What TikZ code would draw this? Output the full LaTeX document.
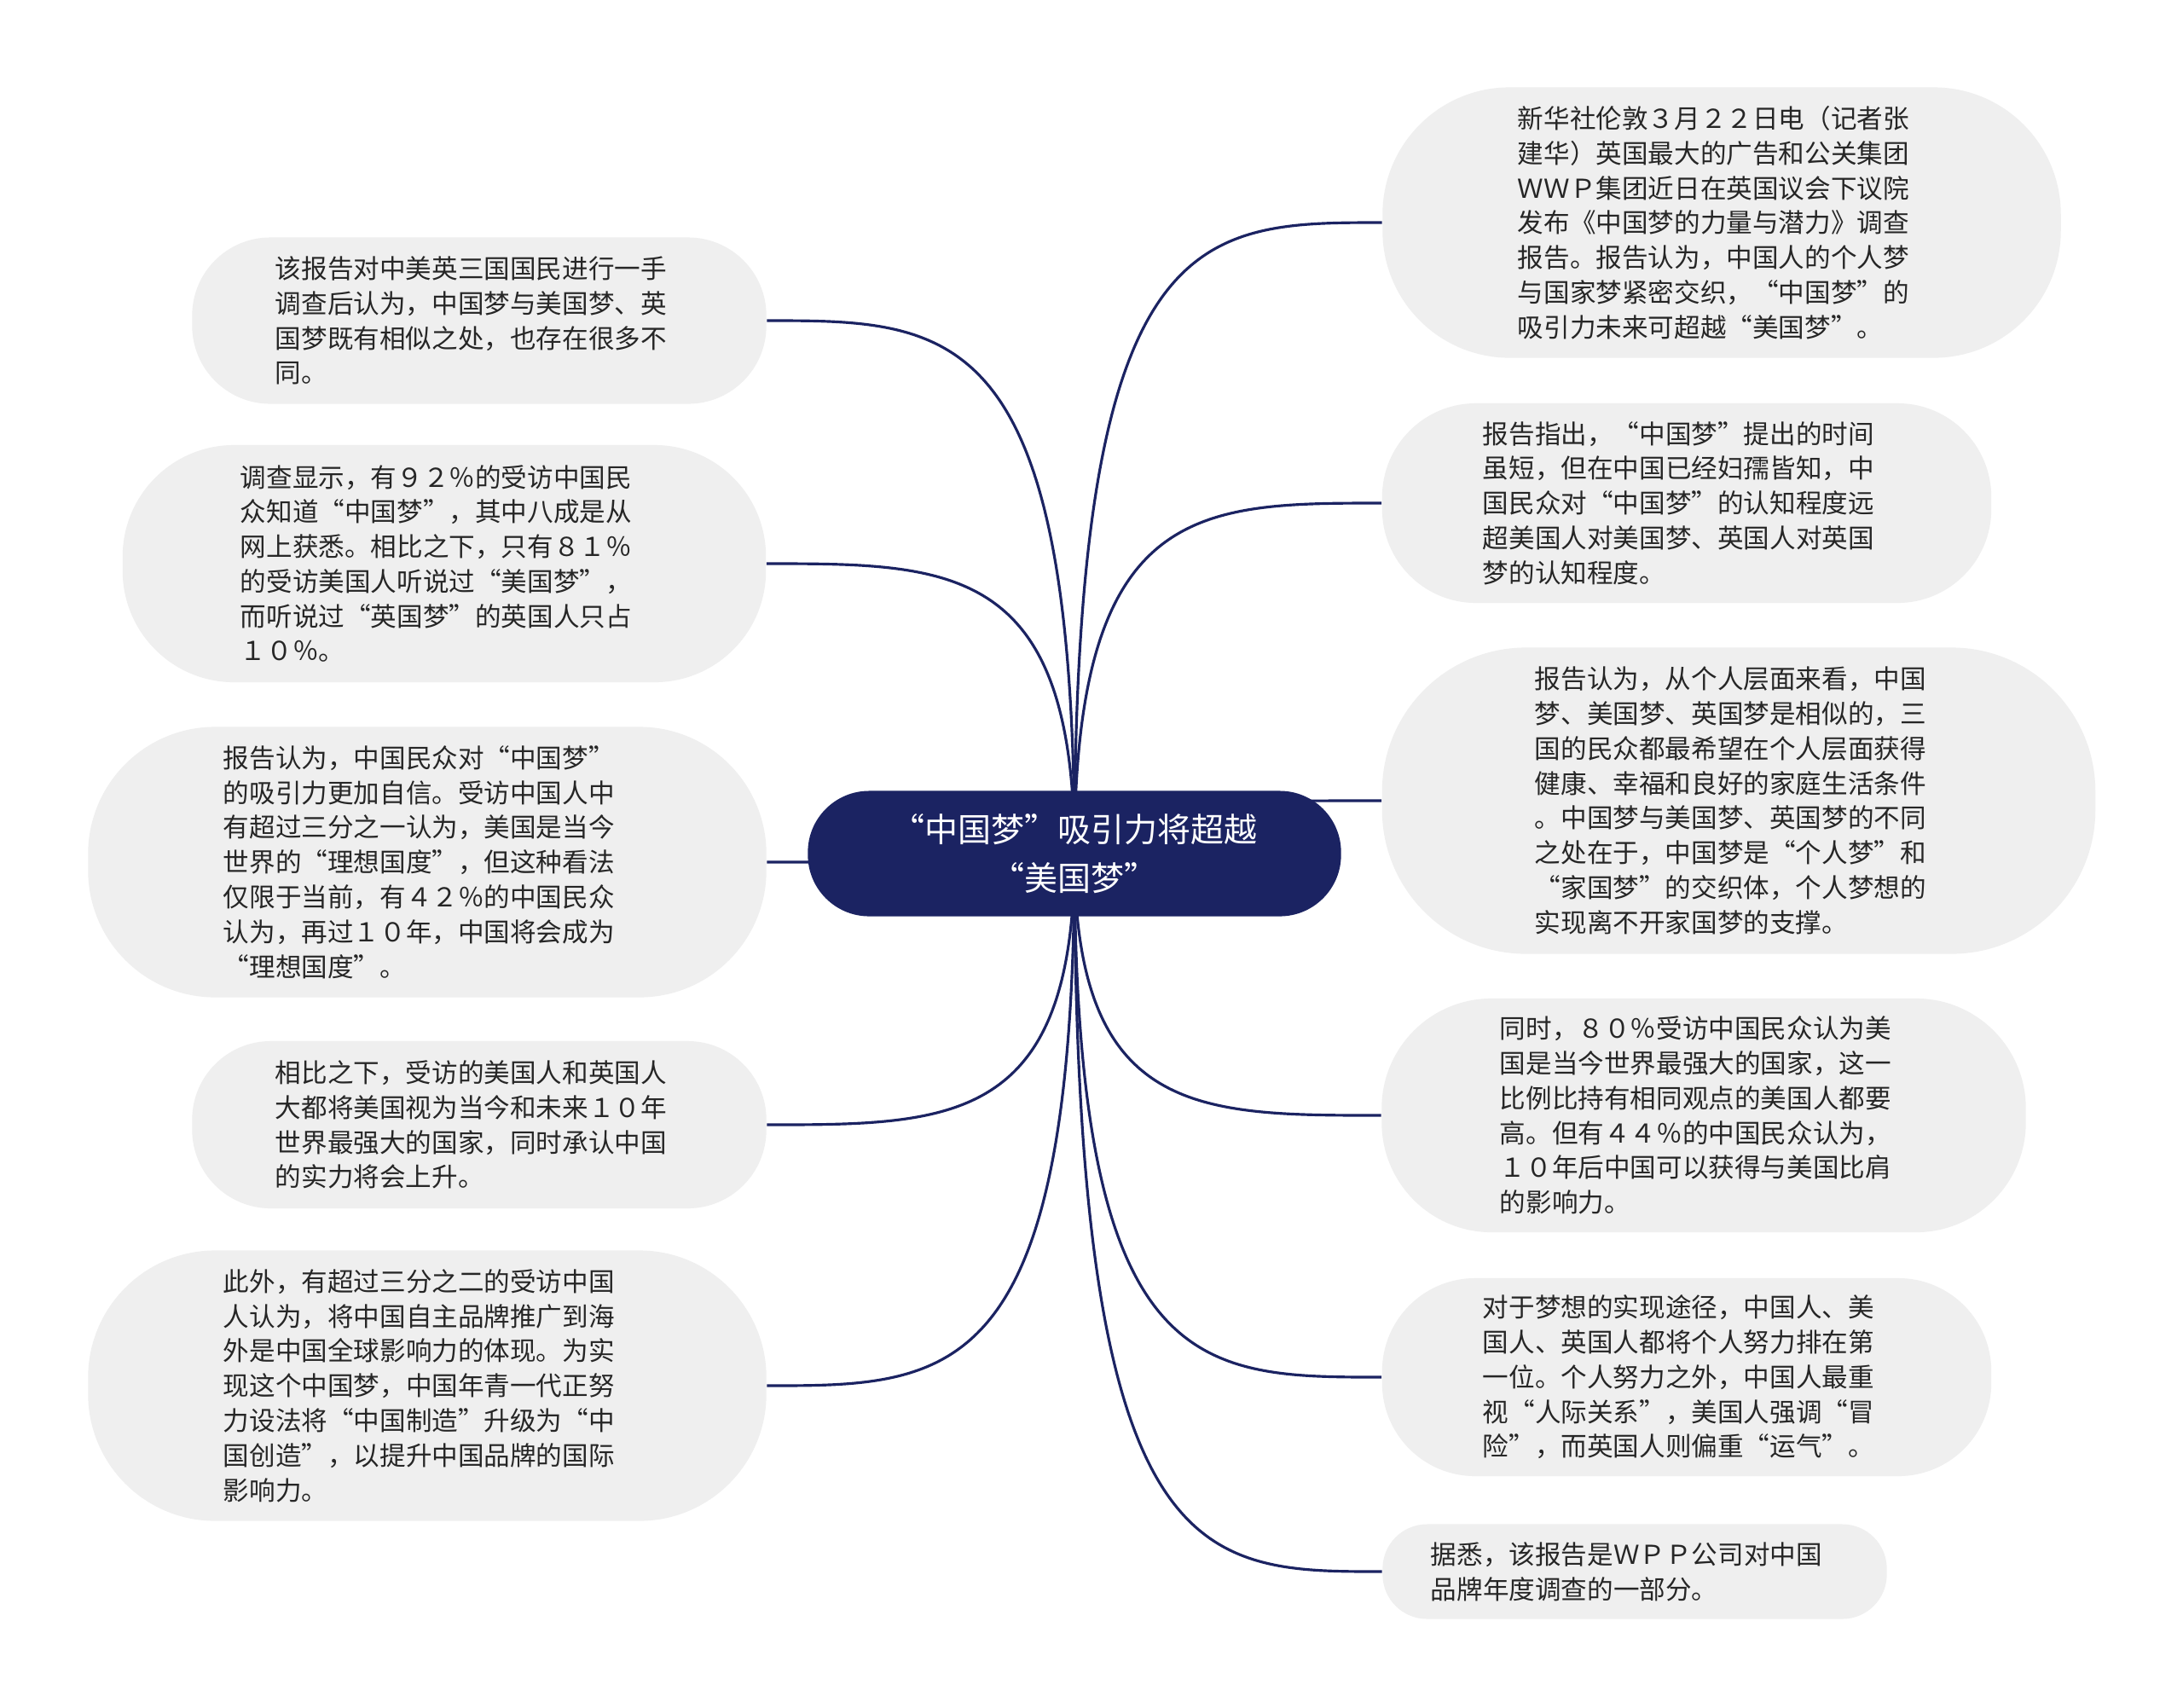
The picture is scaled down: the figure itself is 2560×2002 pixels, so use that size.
\documentclass[tikz,border=0pt]{standalone}
\usepackage{fontspec}
\setmainfont{Noto Sans CJK SC}
\usetikzlibrary{calc,backgrounds}
\definecolor{navy}{RGB}{27,35,98}
\definecolor{leafgray}{RGB}{239,239,239}
\definecolor{txtgray}{RGB}{38,38,38}
\tikzset{
  leaf/.style 2 args={fill=leafgray, draw=none, text=txtgray, align=left,
    text width=4.78cm,
    inner sep=0pt, minimum width=#1, minimum height=#2,
    rounded corners={0.47*#2},
    font=\fontsize{8.7pt}{11.6pt}\selectfont},
  rootbox/.style={fill=navy, draw=none, text=white, align=center,
    inner sep=0pt, minimum width=6.25cm, minimum height=1.47cm,
    rounded corners=0.72cm,
    font=\fontsize{11.1pt}{16.2pt}\selectfont},
  edge/.style={draw=navy, line width=0.9pt}
}
\begin{document}
\begin{tikzpicture}[x=0.01cm,y=-0.01cm]
\useasboundingbox (0,0) rectangle (2560,2002);
\node[rootbox] (root) at (1260,1001) {“中国梦”吸引力将超越\\“美国梦”};
% right side
\node[leaf={7.95cm}{3.17cm}] (R1) at (2019,261) {新华社伦敦３月２２日电（记者张\\建华）英国最大的广告和公关集团\\ＷＷＰ集团近日在英国议会下议院\\发布《中国梦的力量与潜力》调查\\报告。报告认为，中国人的个人梦\\与国家梦紧密交织，“中国梦”的\\吸引力未来可超越“美国梦”。};
\node[leaf={7.14cm}{2.34cm}] (R2) at (1978,590) {报告指出，“中国梦”提出的时间\\虽短，但在中国已经妇孺皆知，中\\国民众对“中国梦”的认知程度远\\超美国人对美国梦、英国人对英国\\梦的认知程度。};
\node[leaf={8.36cm}{3.59cm}] (R3) at (2039,939) {报告认为，从个人层面来看，中国\\梦、美国梦、英国梦是相似的，三\\国的民众都最希望在个人层面获得\\健康、幸福和良好的家庭生活条件\\。中国梦与美国梦、英国梦的不同\\之处在于，中国梦是“个人梦”和\\“家国梦”的交织体，个人梦想的\\实现离不开家国梦的支撑。};
\node[leaf={7.55cm}{2.74cm}] (R4) at (1998,1308) {同时，８０％受访中国民众认为美\\国是当今世界最强大的国家，这一\\比例比持有相同观点的美国人都要\\高。但有４４％的中国民众认为，\\１０年后中国可以获得与美国比肩\\的影响力。};
\node[leaf={7.14cm}{2.32cm}] (R5) at (1978,1615) {对于梦想的实现途径，中国人、美\\国人、英国人都将个人努力排在第\\一位。个人努力之外，中国人最重\\视“人际关系”，美国人强调“冒\\险”，而英国人则偏重“运气”。};
\node[leaf={5.91cm}{1.11cm}] (R6) at (1917,1843) {据悉，该报告是ＷＰＰ公司对中国\\品牌年度调查的一部分。};
% left side
\node[leaf={6.73cm}{1.95cm}] (L1) at (562,376) {该报告对中美英三国国民进行一手\\调查后认为，中国梦与美国梦、英\\国梦既有相似之处，也存在很多不\\同。};
\node[leaf={7.54cm}{2.78cm}] (L2) at (521,661) {调查显示，有９２％的受访中国民\\众知道“中国梦”，其中八成是从\\网上获悉。相比之下，只有８１％\\的受访美国人听说过“美国梦”，\\而听说过“英国梦”的英国人只占\\１０％。};
\node[leaf={7.95cm}{3.17cm}] (L3) at (501,1011) {报告认为，中国民众对“中国梦”\\的吸引力更加自信。受访中国人中\\有超过三分之一认为，美国是当今\\世界的“理想国度”，但这种看法\\仅限于当前，有４２％的中国民众\\认为，再过１０年，中国将会成为\\“理想国度”。};
\node[leaf={6.73cm}{1.96cm}] (L4) at (562,1319) {相比之下，受访的美国人和英国人\\大都将美国视为当今和未来１０年\\世界最强大的国家，同时承认中国\\的实力将会上升。};
\node[leaf={7.95cm}{3.17cm}] (L5) at (501,1625) {此外，有超过三分之二的受访中国\\人认为，将中国自主品牌推广到海\\外是中国全球影响力的体现。为实\\现这个中国梦，中国年青一代正努\\力设法将“中国制造”升级为“中\\国创造”，以提升中国品牌的国际\\影响力。};
\begin{scope}[on background layer]
\fill[white] (0,0) rectangle (2560,2002);
\foreach \n in {R1,R2,R3,R4,R5,R6}{
  \draw[edge] (root.center) .. controls (root.center |- \n.west) and ($(root.center |- \n.west)!0.4!(\n.west)$) .. (\n.west);
}
\foreach \n in {L1,L2,L3,L4,L5}{
  \draw[edge] (root.center) .. controls (root.center |- \n.east) and ($(root.center |- \n.east)!0.4!(\n.east)$) .. (\n.east);
}
\end{scope}
\end{tikzpicture}
\end{document}
